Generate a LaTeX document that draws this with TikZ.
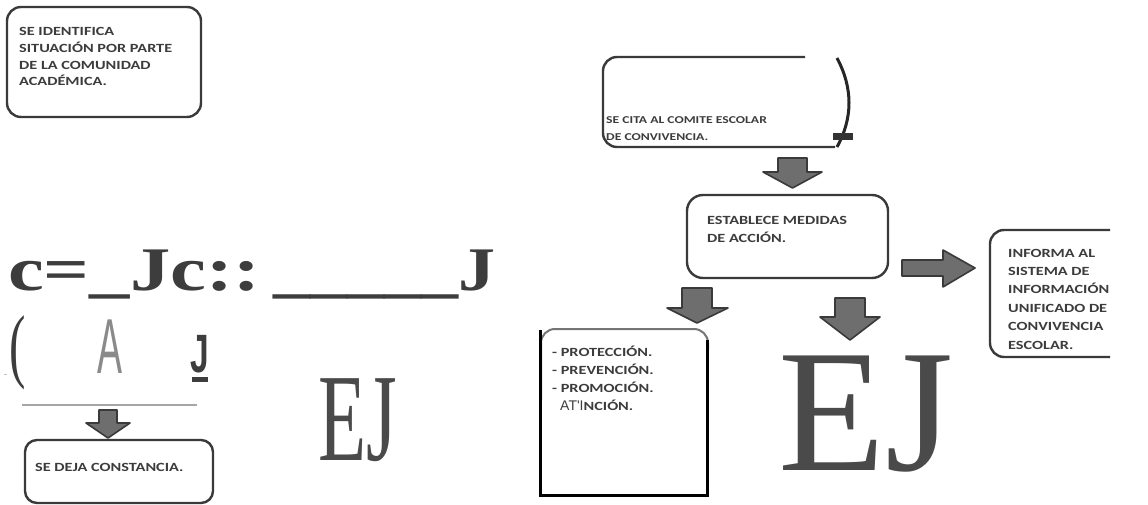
\documentclass[tikz,border=0pt]{standalone}
\usepackage{fontspec}
\usepackage{graphicx}
\newfontfamily\boxfont[FakeStretch=1.3]{Carlito}
\newfontfamily\ocrserif{Liberation Serif}
\newfontfamily\ocrwide[FakeStretch=1.3]{Liberation Serif}
\newfontfamily\ocrsans{Liberation Sans}
\definecolor{frame}{HTML}{3A3A3A}
\definecolor{ink}{HTML}{3C3C3C}
\definecolor{arrowgray}{HTML}{6E6E6E}
\definecolor{scanink}{HTML}{3D3D3D}
\definecolor{ejgray}{HTML}{4A4A4A}
\definecolor{agray}{HTML}{8A8A8A}

\begin{document}
\begin{tikzpicture}[x=1pt,y=-1pt,
  box/.style={draw=frame,line width=2.4pt,rounded corners=14pt,fill=white},
  boxtext/.style={anchor=base west,inner sep=0pt,align=left,text=ink,
    font=\boxfont\bfseries\fontsize{12.5}{16.6}\selectfont},
  blockarrow/.style={draw=frame,line width=1.6pt,fill=arrowgray,line join=round},
  scan/.style={anchor=base west,inner sep=0pt,text=scanink}]

  \useasboundingbox (0,0) rectangle (1148,505);

  % left column (text nodes sit on the baseline of their last line)
  \node[box,minimum width=194pt,minimum height=110pt] (ident) at (104,62) {};
  \node[boxtext] (identtxt) at (19,85.8) {SE IDENTIFICA\\SITUACIÓN POR PARTE\\DE LA COMUNIDAD\\ACADÉMICA.};

  \node[scan,font=\ocrwide\bfseries\fontsize{62}{62}\selectfont] (scanA) at (8,290) {c=\_Jc::};
  \node[scan,font=\ocrwide\bfseries\fontsize{62}{62}\selectfont] (scanB) at (273,290) {\scalebox{0.92}[1]{\_\_\_\_\_J}};
  \node[scan,font=\ocrsans\fontsize{9}{9}\selectfont,text=agray] (scandash) at (4,377) {-};
  \node[scan,font=\ocrserif\fontsize{82}{82}\selectfont] (scanparen) at (9,372.5) {\scalebox{0.6}[1]{(}};
  \node[scan,font=\ocrsans\fontsize{78}{78}\selectfont,text=agray] (scanA2) at (97,373) {\scalebox{0.48}[1]{A}};
  \node[scan,font=\ocrsans\bfseries\fontsize{54}{54}\selectfont] (scanJ) at (190,372) {\scalebox{0.62}[1]{J}};
  \fill[scanink] (192,377) rectangle (208,382);
  \node[scan,font=\ocrserif\fontsize{125}{125}\selectfont,text=ejgray] (smallej) at (318,460) {\scalebox{0.63}[1]{EJ}};

  \draw[gray!70,line width=1.5pt] (22,405) -- (197,405);
  \draw[blockarrow] (99,410) -- (117,410) -- (117,423) -- (130,423) -- (108,438) -- (86,423) -- (99,423) -- cycle;
  \node[box,rounded corners=12pt,minimum width=188pt,minimum height=63pt] (leave) at (119,471.5) {};
  \node[boxtext] (leavetxt) at (35,471) {SE DEJA CONSTANCIA.};

  % right column
  \draw[box,fill=none] (805,57) -- (603,57) -- (603,147) -- (835,147);
  \node[boxtext,font=\boxfont\bfseries\fontsize{10.5}{17}\selectfont] (citetxt) at (606,140.5) {SE CITA AL COMITE ESCOLAR\\DE CONVIVENCIA.};
  \draw[line width=3pt,black!85] (837,58) .. controls (853,88) and (853,118) .. (837,147);
  \fill[black!80] (833,133) rectangle (853,140);

  \draw[blockarrow] (778,158) -- (807,158) -- (807,172) -- (822,172) -- (792.5,188) -- (763,172) -- (778,172) -- cycle;

  \node[box,rounded corners=16pt,minimum width=201pt,minimum height=83pt] (measures) at (787.5,236.5) {};
  \node[boxtext,font=\boxfont\bfseries\fontsize{12.5}{18}\selectfont] (measurestxt) at (707,242) {ESTABLECE MEDIDAS\\DE ACCIÓN.};

  \draw[blockarrow] (902,260) -- (943,260) -- (943,250) -- (975,268) -- (943,287) -- (943,276) -- (902,276) -- cycle;

  \begin{scope}
    \clip (980,220) rectangle (1110,370);
    \node[box,minimum width=170pt,minimum height=127pt] (inform) at (1075,293.5) {};
    \node[boxtext,font=\boxfont\bfseries\fontsize{12.5}{18.4}\selectfont] (informtxt) at (1008,349) {INFORMA AL\\SISTEMA DE\\INFORMACIÓN\\UNIFICADO DE\\CONVIVENCIA\\ESCOLAR.};
  \end{scope}

  \draw[blockarrow] (682,288) -- (712,288) -- (712,308) -- (728,308) -- (697,323) -- (667,308) -- (682,308) -- cycle;
  \draw[blockarrow] (835,298) -- (865,298) -- (865,317) -- (880,317) -- (850,340) -- (820,317) -- (835,317) -- cycle;

  \draw[frame!70,line width=2pt,rounded corners=14pt] (541,400) -- (541,329) -- (708,329) -- (708,350);
  \draw[line width=3pt,black] (540,330) -- (540,495) -- (707,495) -- (707,340);
  \node[boxtext,font=\boxfont\bfseries\fontsize{12.5}{18}\selectfont] (actiontxt) at (552,410) {- PROTECCIÓN.\\- PREVENCIÓN.\\- PROMOCIÓN.\\\hspace*{8pt}{\ocrsans\mdseries\fontsize{14}{14}\selectfont AT\char"27 I}NCIÓN.};

  \node[scan,font=\ocrserif\fontsize{175}{175}\selectfont,text=ejgray] (bigej) at (778,470) {EJ};
\end{tikzpicture}
\end{document}
